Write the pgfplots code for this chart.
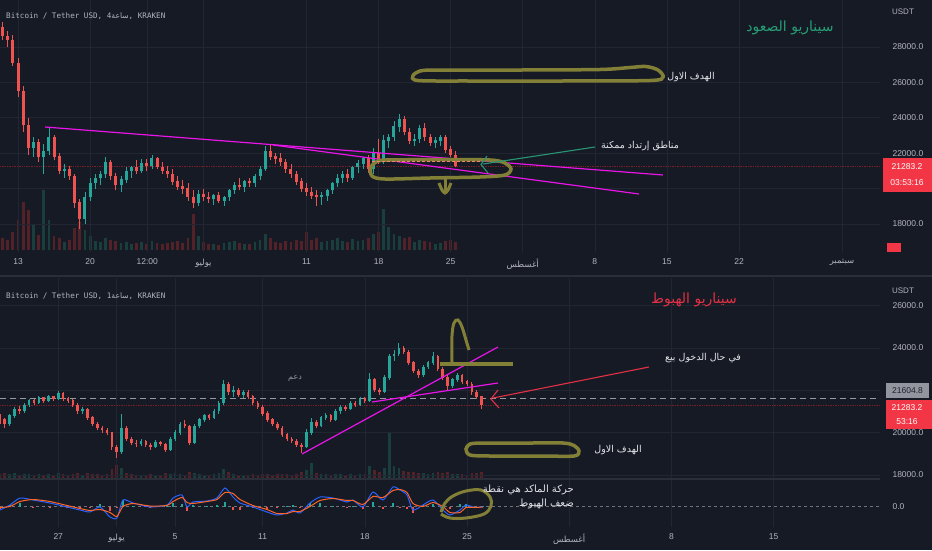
\documentclass[border=0pt]{standalone}
\usepackage{fontspec}
\usepackage{pgfplots}
\usepackage{pgfplotstable}
\pgfplotsset{compat=1.18}
\TeXXeTstate=1
\setmainfont{Liberation Sans}
\newfontfamily\arabicfont[Script=Arabic]{DejaVu Sans}
\newfontfamily\monof{DejaVu Sans Mono}
\newcommand\ar[1]{{\arabicfont\beginR #1\endR}}
\definecolor{bgc}{RGB}{22,26,37}
\definecolor{gridc}{RGB}{34,38,50}
\definecolor{sepc}{RGB}{42,46,57}
\definecolor{tickc}{RGB}{178,181,190}
\definecolor{upc}{RGB}{38,166,154}
\definecolor{dnc}{RGB}{239,83,80}
\definecolor{upv}{RGB}{26,62,60}
\definecolor{dnv}{RGB}{82,34,40}
\definecolor{mag}{RGB}{232,20,232}
\definecolor{olv}{RGB}{130,128,54}
\definecolor{redlab}{RGB}{242,54,69}
\definecolor{titleg}{RGB}{38,158,118}
\definecolor{titler}{RGB}{226,48,68}
\definecolor{priceln}{RGB}{120,32,40}
\definecolor{macdb}{RGB}{41,98,255}
\definecolor{macdo}{RGB}{255,100,40}
\definecolor{txtw}{RGB}{228,229,233}
\definecolor{greyl}{RGB}{146,149,158}
\definecolor{dashc}{RGB}{150,153,162}
\definecolor{arrowg}{RGB}{40,150,115}
\definecolor{salmon}{RGB}{240,135,110}
\definecolor{darktxt}{RGB}{30,34,45}

% ---------- top panel: 12h candles (d = day index, June 13 = 13) ----------
\pgfplotstableread{
d o h l c v
11.5 29100 29400 28400 28600 12
12.0 28600 28900 28000 28400 10
12.5 28400 28700 26900 27100 18
13.0 27100 27400 25200 25500 30
13.5 25500 25800 23200 23600 48
14.0 23600 24000 21900 22300 40
14.5 22300 22900 21800 22600 25
15.0 22600 22800 21500 21800 15
15.5 21800 22500 20800 22100 60
16.0 22100 23500 21900 22900 30
16.5 22900 23000 21600 21800 14
17.0 21800 22000 20800 21000 12
17.5 21000 21400 20600 21100 8
18.0 21100 21300 20500 20700 10
18.5 20700 20800 18900 19200 22
19.0 19200 19400 17700 18300 28
19.5 18300 19800 18000 19500 20
20.0 19500 20600 19300 20300 14
20.5 20300 20800 20000 20600 9
21.0 20600 21000 20200 20800 8
21.5 20800 21800 20600 21500 12
22.0 21500 21600 20500 20700 10
22.5 20700 20900 19900 20200 9
23.0 20200 20700 19800 20500 7
23.5 20500 21200 20300 21000 8
24.0 21000 21300 20600 21200 6
24.5 21200 21600 20800 21000 7
25.0 21000 21700 20900 21400 8
25.5 21400 21700 21000 21300 6
26.0 21300 21900 21100 21700 9
26.5 21700 21800 21100 21200 7
27.0 21200 21500 20800 21000 6
27.5 21000 21300 20600 20800 7
28.0 20800 21100 20200 20400 8
28.5 20400 20700 19900 20100 9
29.0 20100 20500 19700 20000 7
29.5 20000 20300 19300 19500 12
30.0 19500 19900 18900 19200 36
30.5 19200 19900 19000 19700 14
31.0 19700 20000 19300 19500 8
31.5 19500 19800 19200 19400 6
32.0 19400 19700 19100 19600 6
32.5 19600 19800 19200 19300 5
33.0 19300 19600 19000 19500 7
33.5 19500 20000 19300 19900 8
34.0 19900 20400 19700 20200 9
34.5 20200 20600 19900 20100 7
35.0 20100 20500 19800 20400 6
35.5 20400 20600 20100 20300 6
36.0 20300 20800 20100 20700 8
36.5 20700 21300 20500 21100 10
37.0 21100 22400 21000 22100 16
37.5 22100 22500 21600 21800 12
38.0 21800 22000 21400 21700 8
38.5 21700 22000 21300 21500 7
39.0 21500 21700 20900 21100 9
39.5 21100 21400 20600 20800 8
40.0 20800 21000 20200 20400 10
40.5 20400 20600 19800 20000 9
41.0 20000 20300 19600 19800 18
41.5 19800 20100 19400 19600 10
42.0 19600 19900 19000 19500 12
42.5 19500 19800 19100 19600 8
43.0 19600 20000 19300 19900 9
43.5 19900 20400 19700 20300 10
44.0 20300 20800 20100 20600 12
44.5 20600 21000 20300 20800 9
45.0 20800 21100 20400 20600 8
45.5 20600 21300 20500 21200 11
46.0 21200 21600 20900 21400 9
46.5 21400 21800 21100 21700 10
47.0 21700 21900 20900 21100 12
47.5 21100 22300 20800 22000 16
48.0 22000 22800 21400 21600 18
48.5 21600 23000 21400 22700 41
49.0 22700 23100 22300 22900 23
49.5 22900 23800 22700 23500 16
50.0 23500 24200 23200 23900 14
50.5 23900 24100 23000 23200 12
51.0 23200 23400 22500 22700 13
51.5 22700 23100 22400 22800 8
52.0 22800 23600 22600 23400 10
52.5 23400 23700 22700 22900 9
53.0 22900 23100 22400 22600 8
53.5 22600 22900 22300 22700 6
54.0 22700 23000 22400 22900 7
54.5 22900 23000 22000 22200 9
55.0 22200 22400 21800 21900 10
55.5 21900 22100 21200 21283.2 8
}\topdata

% ---------- bottom panel: 8h candles ----------
\pgfplotstableread{
d o h l c v
23.00 20800 20900 20400 20600 4
23.33 20600 20700 20200 20400 5
23.67 20400 20900 20300 20800 4
24.00 20800 21200 20700 21100 5
24.33 21100 21250 20900 21000 3
24.67 21000 21400 20950 21300 4
25.00 21300 21600 21200 21500 4
25.33 21500 21600 21300 21400 3
25.67 21400 21750 21350 21650 4
26.00 21650 21700 21400 21500 3
26.33 21500 21800 21450 21700 4
26.67 21700 21750 21500 21600 3
27.00 21600 21950 21550 21850 5
27.33 21850 21900 21500 21600 4
27.67 21600 21700 21400 21500 3
28.00 21500 21600 21200 21300 4
28.33 21300 21400 20900 21000 5
28.67 21000 21200 20900 21100 3
29.00 21100 21150 20600 20700 5
29.33 20700 20800 20300 20400 4
29.67 20400 20500 20100 20200 4
30.00 20200 20300 20000 20100 3
30.33 20100 20200 19900 20000 4
30.67 20000 20050 19200 19300 9
31.00 19300 19400 18800 19100 13
31.33 19100 20900 19000 20200 10
31.67 20200 20300 19600 19700 5
32.00 19700 19800 19400 19500 4
32.33 19500 19650 19300 19450 3
32.67 19450 19700 19350 19600 3
33.00 19600 19650 19300 19400 3
33.33 19400 19500 19200 19300 4
33.67 19300 19650 19250 19550 3
34.00 19550 19600 19350 19450 3
34.33 19450 19500 19100 19200 5
34.67 19200 19800 19150 19700 4
35.00 19700 20100 19600 20000 5
35.33 20000 20500 19900 20400 4
35.67 20400 20600 20200 20300 3
36.00 20300 20350 19400 19500 6
36.33 19500 20400 19450 20300 5
36.67 20300 20700 20200 20600 4
37.00 20600 20900 20500 20800 3
37.33 20800 20900 20600 20700 3
37.67 20700 21100 20650 21000 4
38.00 21000 21500 20900 21400 5
38.33 21400 22500 21300 22300 9
38.67 22300 22400 21800 21900 6
39.00 21900 22200 21700 22000 4
39.33 22000 22100 21700 21800 3
39.67 21800 22000 21650 21900 3
40.00 21900 22000 21600 21700 3
40.33 21700 21800 21300 21400 4
40.67 21400 21500 21100 21200 3
41.00 21200 21300 20800 20900 4
41.33 20900 21000 20500 20600 4
41.67 20600 20700 20300 20400 3
42.00 20400 20500 20100 20200 4
42.33 20200 20300 19800 19900 4
42.67 19900 20000 19600 19700 4
43.00 19700 19800 19500 19600 3
43.33 19600 19700 19300 19400 4
43.67 19400 19500 19040 19300 6
44.00 19300 20150 19250 20000 8
44.33 20000 20700 19900 20500 15
44.67 20500 20600 20200 20300 5
45.00 20300 20800 20250 20700 4
45.33 20700 20950 20600 20800 4
45.67 20800 20900 20500 20600 3
46.00 20600 21100 20550 21000 4
46.33 21000 21300 20900 21200 4
46.67 21200 21300 21000 21100 3
47.00 21100 21500 21050 21400 4
47.33 21400 21500 21200 21300 3
47.67 21300 21700 21250 21600 4
48.00 21600 21700 21400 21500 4
48.33 21500 22800 21450 22500 12
48.67 22500 22600 21900 22000 8
49.00 22000 22100 21800 21900 6
49.33 21900 22700 21850 22600 10
49.67 22600 23700 22500 23600 45
50.00 23600 23900 23400 23700 12
50.33 23700 24250 23600 24000 10
50.67 24000 24100 23700 23800 7
51.00 23800 23900 23200 23300 6
51.33 23300 23400 22800 22900 6
51.67 22900 23000 22600 22700 5
52.00 22700 23200 22650 23100 5
52.33 23100 23400 23000 23300 4
52.67 23300 23800 23200 23600 5
53.00 23600 23650 22900 23000 6
53.33 23000 23100 22500 22600 5
53.67 22600 22700 22000 22200 6
54.00 22200 22600 22100 22500 4
54.33 22500 22800 22400 22700 4
54.67 22700 22750 22300 22400 4
55.00 22400 22500 22200 22300 3
55.33 22300 22400 21800 21900 5
55.67 21900 22000 21600 21700 5
56.00 21700 21750 21100 21283.2 6
}\botdata

% ---------- MACD (arbitrary units) ----------
\pgfplotstableread{
d m s hst
23.01 -3.5 -1 -2.5
23.69 1.5 0 1.5
24.38 8.5 5 3.5
25.27 6.5 7 -0.5
26.43 3.5 5 -1.5
27.60 -0.5 1 -1.5
28.49 -3.5 -2 -1.5
29.17 -5.5 -4 -1.5
29.86 -0.5 -3 2.5
30.54 -10.5 -6 -4.5
31.02 -11.5 -10 -1.5
31.43 6.5 0 6.5
32.12 3.5 3 0.5
33.28 -0.5 0.5 -1
34.45 1.5 1 0.5
34.86 8.5 5 3.5
35.48 11.5 9 2.5
35.82 -0.5 4 -4.5
36.23 4.5 3 1.5
37.19 5.5 5 0.5
37.87 8.5 7 1.5
38.42 18.5 14 4.5
38.97 9.5 13 -3.5
39.45 3.5 7 -3.5
40.34 -0.5 1 -1.5
41.30 -5.5 -3 -2.5
41.98 -8.5 -7 -1.5
42.67 -6.5 -7 0.5
43.08 -3.5 -5 1.5
43.56 -6.5 -5 -1.5
44.24 3.5 0 3.5
44.93 9.5 6 3.5
45.82 8.5 8 0.5
46.78 4.5 6 -1.5
47.19 6.5 6 0.5
47.87 -0.5 2 -2.5
48.56 14.5 10 4.5
49.24 6.5 9 -2.5
49.93 19.5 16 3.5
50.41 16.5 17 -0.5
50.89 11.5 14 -2.5
51.30 -3.5 3 -6.5
51.98 1.5 0 1.5
52.67 6.5 4 2.5
53.35 -3.5 0 -3.5
53.83 -8.5 -6 -2.5
54.52 -3.5 -6 2.5
54.93 1.5 -1 2.5
55.54 -1 -1 0
56.09 0 -0.5 0.5
}\macddata

\newcommand\candles[3]{%
 \addplot[forget plot, draw=none, mark=none,
   restrict expr to domain={\thisrow{c}-\thisrow{o}}{0:1000000},
   error bars/.cd, y dir=plus, y explicit, error mark=none,
   error bar style={draw=upc, line width=#3, solid}]
   table[x=d, y=l, y error plus expr=\thisrow{h}-\thisrow{l}] {#1};
 \addplot[forget plot, draw=none, mark=none,
   restrict expr to domain={\thisrow{c}-\thisrow{o}}{0:1000000},
   error bars/.cd, y dir=plus, y explicit, error mark=none,
   error bar style={draw=upc, line width=#2, solid}]
   table[x=d, y=o, y error plus expr=\thisrow{c}-\thisrow{o}+20] {#1};
 \addplot[forget plot, draw=none, mark=none,
   restrict expr to domain={\thisrow{c}-\thisrow{o}}{-1000000:-0.001},
   error bars/.cd, y dir=plus, y explicit, error mark=none,
   error bar style={draw=dnc, line width=#3, solid}]
   table[x=d, y=l, y error plus expr=\thisrow{h}-\thisrow{l}] {#1};
 \addplot[forget plot, draw=none, mark=none,
   restrict expr to domain={\thisrow{c}-\thisrow{o}}{-1000000:-0.001},
   error bars/.cd, y dir=plus, y explicit, error mark=none,
   error bar style={draw=dnc, line width=#2, solid}]
   table[x=d, y=c, y error plus expr=\thisrow{o}-\thisrow{c}+20] {#1};
}
\newcommand\volumes[2]{%
 \addplot[forget plot, ycomb, mark=none, draw=upv, line width=#2,
   restrict expr to domain={\thisrow{c}-\thisrow{o}}{0:1000000}] table[x=d, y=v] {#1};
 \addplot[forget plot, ycomb, mark=none, draw=dnv, line width=#2,
   restrict expr to domain={\thisrow{c}-\thisrow{o}}{-1000000:-0.001}] table[x=d, y=v] {#1};
}

\pgfplotsset{
  tvaxis/.style={scale only axis, anchor=south west, axis line style={draw=none},
    major tick length=0pt, minor tick num=0, clip=false,
    scaled y ticks=false, scaled x ticks=false,
    grid=major, grid style={draw=gridc, line width=0.6pt},
    ticklabel style={font=\fontsize{8.5}{10}\selectfont, text=tickc},
    yticklabel pos=right, yticklabel style={anchor=west, xshift=9pt},
    xticklabel style={anchor=north, yshift=-3.5pt}},
  hiddenaxis/.style={scale only axis, anchor=south west, hide axis, clip=false},
}

\begin{document}
\begin{tikzpicture}[x=1pt,y=1pt]
\path[use as bounding box] (0,0) rectangle (932,550);
\fill[bgc] (0,0) rectangle (932,550);

% ===== top volume =====
\begin{axis}[hiddenaxis, at={(0pt,300pt)}, width=880pt, height=250pt,
  xmin=11.25, xmax=96.69, ymin=0, ymax=250]
\volumes{\topdata}{2.8pt}
\end{axis}

% ===== top candles =====
\begin{axis}[tvaxis, at={(0pt,298pt)}, width=880pt, height=252pt,
  xmin=11.25, xmax=96.69, ymin=16418, ymax=30655,
  xtick={13,20,25.55,31,41,48,55,62,69,76,83,93},
  xticklabels={13,20,12:00,\ar{يوليو},11,18,25,\ar{أغسطس},8,15,22,\ar{سبتمبر}},
  ytick={18000,20000,22000,24000,26000,28000},
  yticklabels={18000.0,20000.0,22000.0,24000.0,26000.0,28000.0}]
\addplot[forget plot, priceln, densely dotted, line width=0.7pt] coordinates {(11.25,21283.2) (96.69,21283.2)};
\candles{\topdata}{3pt}{0.8pt}
% trend lines
\addplot[mag, line width=1.2pt] coordinates {(15.62,23480) (75.62,20768)};
\addplot[mag, line width=1.2pt] coordinates {(37.76,22463) (73.29,19695)};
\end{axis}

% ===== bottom volume =====
\begin{axis}[hiddenaxis, at={(0pt,72pt)}, width=880pt, height=200pt,
  xmin=23.01, xmax=83.29, ymin=0, ymax=200]
\volumes{\botdata}{2.6pt}
\end{axis}

% ===== bottom candles =====
\begin{axis}[tvaxis, at={(0pt,72pt)}, width=880pt, height=200pt,
  xmin=23.01, xmax=83.29, ymin=17853, ymax=27310,
  xtick={27,31,35,41,48,55,62,69,76}, xticklabels={},
  ytick={18000,20000,22000,24000,26000},
  yticklabels={18000.0,20000.0,22000.0,24000.0,26000.0}]
\addplot[forget plot, priceln, densely dotted, line width=0.7pt] coordinates {(23.01,21283.2) (83.29,21283.2)};
\addplot[forget plot, dashc, dash pattern=on 6pt off 4pt, line width=0.9pt] coordinates {(23.01,21604.8) (83.29,21604.8)};
\candles{\botdata}{2.6pt}{0.7pt}
\addplot[mag, line width=1.2pt] coordinates {(43.70,18988) (57.12,24047)};
\addplot[mag, line width=1.2pt] coordinates {(48.49,21447) (57.12,22345)};
\end{axis}

% ===== MACD =====
\begin{axis}[tvaxis, at={(0pt,23pt)}, width=880pt, height=47pt,
  xmin=23.01, xmax=83.29, ymin=-20.5, ymax=26.5,
  ymajorgrids=false,
  xtick={27,31,35,41,48,55,62,69,76},
  xticklabels={27,\ar{يوليو},5,11,18,25,\ar{أغسطس},8,15},
  ytick={0}, yticklabels={0.0}]
\addplot[forget plot, dashc!70!bgc, dash pattern=on 3pt off 3pt, line width=0.6pt] coordinates {(23.01,0) (83.29,0)};
\addplot[forget plot, ycomb, mark=none, draw=upc, line width=1.6pt,
  restrict expr to domain={\thisrow{hst}}{0:1000}] table[x=d, y=hst] {\macddata};
\addplot[forget plot, ycomb, mark=none, draw=dnc, line width=1.6pt,
  restrict expr to domain={\thisrow{hst}}{-1000:-0.001}] table[x=d, y=hst] {\macddata};
\addplot[macdb, line width=1pt, smooth, tension=0.4] table[x=d, y=m] {\macddata};
\addplot[macdo, line width=1pt, smooth, tension=0.4] table[x=d, y=s] {\macddata};
\end{axis}

% ===== overlay in pixel units =====
\begin{axis}[hiddenaxis, at={(0pt,0pt)}, width=932pt, height=550pt,
  xmin=0, xmax=932, ymin=0, ymax=550, y dir=reverse]
% separators
\addplot[sepc, line width=2pt] coordinates {(0,276) (932,276)};
\addplot[sepc, line width=1.2pt] coordinates {(0,479) (880,479)};
% titles
\node[anchor=west, text=tickc, font=\monof\fontsize{7.6}{9}\selectfont, inner sep=0] at (axis cs:6,16)
  {Bitcoin / Tether USD, 4{\arabicfont\fontsize{7.6}{9}\selectfont\beginR ساعة\endR}, KRAKEN};
\node[anchor=west, text=tickc, font=\monof\fontsize{7.6}{9}\selectfont, inner sep=0] at (axis cs:6,296)
  {Bitcoin / Tether USD, 1{\arabicfont\fontsize{7.6}{9}\selectfont\beginR ساعة\endR}, KRAKEN};
\node[text=tickc, font=\fontsize{8}{9}\selectfont] at (axis cs:903,12) {USDT};
\node[text=tickc, font=\fontsize{8}{9}\selectfont] at (axis cs:903,291) {USDT};
% top annotations
\node[text=titleg, font=\arabicfont\fontsize{14}{16}\selectfont] at (axis cs:790,28) {\beginR سيناريو الصعود\endR};
\addplot[olv, line width=3.5pt, smooth, tension=0.5] coordinates {(428,70) (520,70) (600,69.5) (630,67.5) (646,66.5) (658,70) (663,77) (650,80.5) (560,81) (470,81) (418,80.5) (413,75.5) (420,71) (430,70)};
\node[text=txtw, font=\arabicfont\fontsize{9.5}{11}\selectfont] at (axis cs:691,77) {\beginR الهدف الاول\endR};
\addplot[olv, line width=3.5pt, smooth, tension=0.5] coordinates {(385,160) (440,159.5) (490,160) (505,163) (511,169) (505,175) (480,177) (430,178) (385,179) (372,176) (371,167) (378,161) (390,160)};
\addplot[olv, line width=3pt] coordinates {(445,178) (445,192)};
\addplot[olv, line width=3pt, smooth] coordinates {(439,183) (442,190) (445,193) (448,190) (451,183)};
\addplot[salmon, dash pattern=on 3pt off 2pt, line width=1.2pt] coordinates {(372,161.5) (482,161.5)};
\addplot[arrowg, line width=1.1pt] coordinates {(595,147) (483,164)};
\addplot[arrowg, line width=1.1pt] coordinates {(487,156) (481,164.5) (488,173)};
\node[text=txtw, font=\arabicfont\fontsize{9.5}{11}\selectfont] at (axis cs:640,146) {\beginR مناطق إرتداد ممكنة\endR};
% top price labels
\fill[redlab] (axis cs:883,158) rectangle (axis cs:932,192);
\node[text=white, font=\fontsize{8.5}{10}\selectfont] at (axis cs:907,167) {21283.2};
\node[text=white, font=\fontsize{8.5}{10}\selectfont] at (axis cs:907,183) {03:53:16};
\fill[redlab] (axis cs:887,243) rectangle (axis cs:901,252);
% bottom annotations
\node[text=titler, font=\arabicfont\fontsize{14}{16}\selectfont] at (axis cs:694,300) {\beginR سيناريو الهبوط\endR};
\node[text=greyl, font=\arabicfont\fontsize{8}{9}\selectfont] at (axis cs:295,378) {\beginR دعم\endR};
\addplot[olv, line width=3.5pt] coordinates {(440,364) (513,364)};
\addplot[olv, line width=3pt, smooth, tension=0.6] coordinates {(452,362) (452,336) (454,323) (458,320) (462,327) (466,340) (469,350)};
\addplot[titler, line width=1.1pt] coordinates {(649,367) (493,398)};
\addplot[titler, line width=1.1pt] coordinates {(498,390) (491,399) (499,408)};
\node[text=txtw, font=\arabicfont\fontsize{9.5}{11}\selectfont] at (axis cs:703,358) {\beginR في حال الدخول بيع\endR};
\addplot[olv, line width=3.5pt, smooth, tension=0.5] coordinates {(478,443) (530,443) (563,443) (574,445.5) (579,451) (574,456) (540,456) (490,456) (470,455) (466,449) (470,444) (480,443)};
\node[text=txtw, font=\arabicfont\fontsize{9.5}{11}\selectfont] at (axis cs:618,450) {\beginR الهدف الاول\endR};
\addplot[olv, line width=3pt, smooth, tension=0.6] coordinates {(441,512) (445,503) (453,496) (466,491) (481,490) (490,497) (491,506) (484,514) (466,518) (450,518) (441,514)};
\node[anchor=east, text=txtw, font=\arabicfont\fontsize{10}{12}\selectfont, inner sep=0] at (axis cs:574,490) {\beginR حركة الماكد هي نقطة\endR};
\node[anchor=east, text=txtw, font=\arabicfont\fontsize{10}{12}\selectfont, inner sep=0] at (axis cs:574,504) {\beginR ضعف الهبوط\endR};
% bottom price labels
\fill[greyl] (axis cs:886,383) rectangle (axis cs:929,398);
\node[text=darktxt, font=\fontsize{8.5}{10}\selectfont] at (axis cs:907.5,390.5) {21604.8};
\fill[redlab] (axis cs:886,400) rectangle (axis cs:932,429);
\node[text=white, font=\fontsize{8.5}{10}\selectfont] at (axis cs:907,408) {21283.2};
\node[text=white, font=\fontsize{8.5}{10}\selectfont] at (axis cs:907,422) {53:16};
\end{axis}
\end{tikzpicture}
\end{document}
